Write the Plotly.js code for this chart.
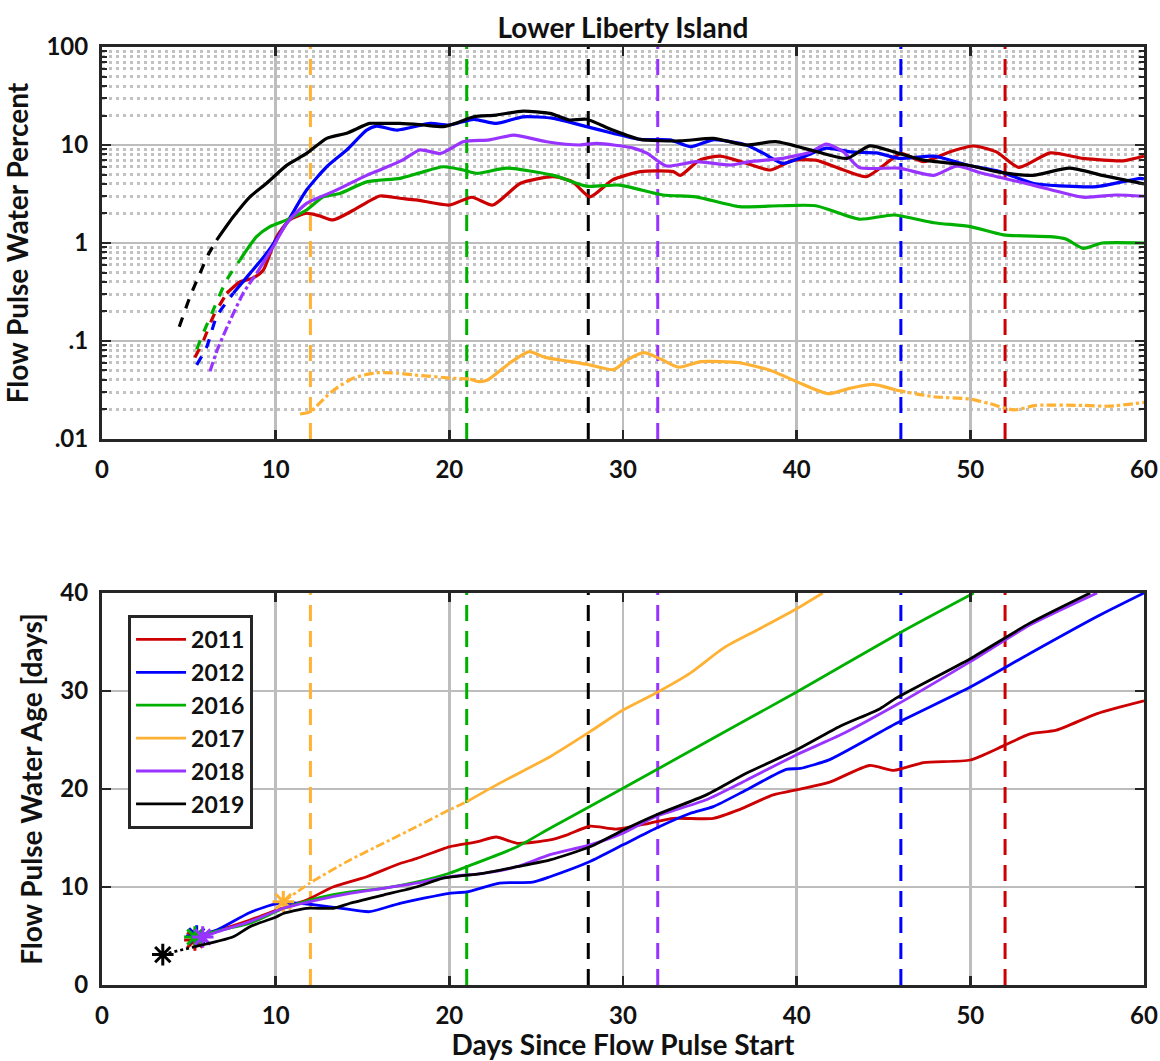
<!DOCTYPE html>
<html>
<head>
<meta charset="utf-8">
<script src="https://cdn.plot.ly/plotly-3.0.1.min.js"></script>
<style>
  html, body { margin: 0; padding: 0; background: #ffffff; }
  #chart { width: 1160px; height: 1061px; }
</style>
</head>
<body>
<div id="chart"></div>
<script>
// ---------------- DATA ----------------
const years = ['2011', '2012', '2016', '2017', '2018', '2019'];
const pulseEndDay = [52, 46, 21, 12, 32, 28];

// Top panel: Flow Pulse Water Percent (log scale)
const pctDays2011 = [5.35, 5.83, 6.4, 7.18, 7.94, 8.71, 9.29, 10.06, 10.8, 11.78, 12.5, 13.3, 14.5, 16.0, 17.16, 18.1, 20.0, 21.3, 22.5, 24.1, 26.0, 27.1, 28.1, 29.4, 31.0, 32.9, 33.3, 34.4, 35.6, 37.1, 38.5, 39.8, 41.1, 42.7, 44.0, 45.4, 46.0, 47.3, 48.8, 50.2, 51.5, 52.8, 54.6, 56.5, 58.8, 60];
const pct2011 = [0.068, 0.10, 0.177, 0.307, 0.40, 0.44, 0.53, 1.16, 1.72, 2.01, 1.9, 1.72, 2.17, 3.02, 2.86, 2.75, 2.44, 2.93, 2.44, 4.07, 4.75, 4.2, 2.96, 4.4, 5.35, 5.35, 4.9, 7.0, 7.7, 6.5, 5.56, 7.0, 7.0, 5.56, 4.75, 7.0, 8.2, 6.76, 8.5, 9.77, 8.5, 5.9, 8.3, 7.3, 6.9, 7.7];

const pctDays2012 = [5.45, 6.03, 6.6, 7.56, 8.52, 9.48, 10.63, 11.78, 12.94, 14.09, 15.24, 15.8, 17.0, 18.9, 20.0, 21.4, 22.7, 24.25, 26.0, 27.9, 29.4, 31.0, 32.7, 33.9, 35.2, 37.1, 38.1, 39.2, 40.4, 41.7, 43.1, 44.6, 45.9, 47.9, 49.8, 51.7, 53.6, 55.5, 57.3, 59.8, 60];
const pct2012 = [0.057, 0.087, 0.177, 0.307, 0.49, 0.785, 1.59, 3.47, 6.0, 8.9, 14.2, 15.6, 14.2, 16.6, 16.0, 18.3, 16.6, 19.4, 18.7, 15.4, 13.2, 11.4, 11.3, 9.6, 11.3, 10.0, 8.2, 6.5, 7.6, 9.3, 8.5, 8.3, 7.3, 7.7, 6.25, 5.35, 4.07, 3.8, 3.76, 4.57, 4.5];

const pctDays2016 = [5.45, 5.83, 6.4, 7.18, 7.94, 8.9, 9.67, 10.63, 11.78, 12.74, 13.7, 15.24, 17.16, 18.3, 19.65, 20.8, 21.6, 23.3, 26.0, 27.9, 29.8, 32.3, 34.2, 36.7, 39.0, 41.1, 43.6, 45.6, 47.9, 50.0, 51.9, 54.6, 55.5, 56.5, 57.6, 60];
const pct2016 = [0.082, 0.12, 0.207, 0.42, 0.67, 1.16, 1.47, 1.72, 2.17, 2.96, 3.2, 4.2, 4.57, 5.2, 6.0, 5.56, 5.14, 5.8, 4.9, 3.8, 3.9, 3.09, 2.96, 2.35, 2.4, 2.4, 1.75, 1.93, 1.61, 1.47, 1.21, 1.16, 1.1, 0.88, 1.0, 1.0];

const pctDays2017 = [11.4, 12.0, 12.5, 13.0, 13.6, 14.5, 15.8, 17.0, 18.0, 20.2, 21.2, 21.7, 22.2, 23.5, 24.6, 25.5, 26.4, 27.9, 29.45, 30.3, 31.2, 32.2, 33.2, 34.5, 36.7, 38.5, 40.0, 41.8, 43.1, 44.4, 45.7, 47.9, 50.0, 51.1, 52.5, 53.8, 56.5, 58.0, 60];
const pct2017 = [0.018, 0.019, 0.023, 0.028, 0.034, 0.042, 0.0475, 0.047, 0.045, 0.0417, 0.041, 0.0385, 0.040, 0.060, 0.078, 0.068, 0.064, 0.058, 0.051, 0.065, 0.076, 0.065, 0.054, 0.0615, 0.060, 0.050, 0.0385, 0.029, 0.033, 0.036, 0.0316, 0.027, 0.0255, 0.023, 0.0198, 0.022, 0.022, 0.0216, 0.0236];

const pctDays2018 = [6.22, 6.6, 7.08, 7.56, 8.13, 8.9, 9.86, 10.63, 11.78, 13.3, 15.24, 16.0, 17.3, 18.3, 19.5, 20.8, 22.3, 23.7, 25.6, 27.5, 28.5, 30.6, 31.4, 32.5, 34.2, 36.2, 37.3, 39.2, 40.8, 41.7, 42.7, 43.6, 45.9, 47.9, 49.2, 50.7, 53.6, 56.5, 58.4, 60];
const pct2018 = [0.049, 0.078, 0.124, 0.19, 0.307, 0.49, 0.92, 1.59, 2.54, 3.34, 4.9, 5.56, 7.0, 8.9, 8.2, 10.8, 11.3, 12.6, 10.8, 10.0, 10.4, 9.3, 8.2, 6.1, 6.76, 6.25, 6.76, 7.3, 8.5, 10.2, 8.5, 5.9, 5.8, 4.9, 6.1, 5.14, 3.9, 2.93, 3.09, 3.0];

const pctDays2019 = [4.45, 5.07, 5.64, 6.1, 6.6, 7.56, 8.52, 9.48, 10.63, 11.78, 12.94, 14.09, 15.4, 16.0, 17.16, 18.5, 19.65, 20.5, 21.4, 22.7, 24.25, 25.8, 26.9, 27.9, 29.4, 30.97, 33.3, 35.2, 37.1, 38.8, 41.1, 42.9, 44.2, 45.6, 47.3, 49.8, 51.5, 53.6, 55.7, 57.6, 60];
const pct2019 = [0.14, 0.283, 0.49, 0.75, 1.07, 1.85, 2.96, 4.07, 6.2, 8.2, 11.7, 13.2, 16.6, 16.6, 16.6, 16.0, 15.4, 17.0, 19.4, 20.2, 22.2, 21.0, 18.0, 18.3, 14.2, 11.4, 11.0, 11.7, 10.0, 10.8, 8.6, 7.3, 9.8, 8.5, 7.0, 6.25, 5.35, 4.9, 5.8, 4.9, 4.0];

// Bottom panel: Flow Pulse Water Age [days]
const ageDays2011 = [5.35, 6.6, 8.52, 10.06, 11.78, 13.3, 15.24, 17.16, 18.1, 20.0, 21.57, 22.7, 23.9, 25.8, 26.75, 28.1, 29.6, 31.5, 32.9, 35.2, 36.7, 38.65, 40.2, 41.9, 44.2, 45.6, 47.3, 50.0, 51.9, 53.4, 54.96, 57.3, 60];
const age2011 = [4.6, 5.5, 6.63, 7.65, 8.67, 10.0, 11.05, 12.4, 12.9, 14.1, 14.6, 15.1, 14.46, 14.8, 15.3, 16.2, 15.9, 16.5, 17.0, 17.0, 17.9, 19.4, 20.0, 20.7, 22.4, 21.9, 22.7, 22.96, 24.4, 25.6, 26.0, 27.7, 29.0];

const ageDays2012 = [5.45, 6.6, 8.52, 10.06, 11.4, 12.36, 13.9, 15.4, 17.16, 20.0, 21.0, 22.9, 24.8, 25.8, 28.1, 30.0, 31.9, 33.85, 35.2, 37.1, 39.4, 40.2, 41.9, 45.75, 50.0, 53.4, 57.3, 60];
const age2012 = [5.0, 5.6, 7.4, 8.3, 8.34, 8.16, 7.8, 7.48, 8.34, 9.36, 9.5, 10.4, 10.5, 11.05, 12.6, 14.3, 16.0, 17.5, 18.2, 19.9, 22.0, 22.1, 23.0, 26.7, 30.4, 33.8, 37.6, 40.0];

const ageDays2016 = [5.35, 6.6, 8.52, 10.44, 12.36, 14.28, 16.2, 18.1, 20.0, 21.0, 23.9, 25.8, 30.0, 34.8, 40.0, 45.9, 50.2];
const age2016 = [4.9, 5.5, 6.3, 7.8, 8.85, 9.5, 9.87, 10.5, 11.4, 12.07, 14.1, 16.0, 20.07, 24.8, 29.9, 35.9, 40.0];

const ageDays2017 = [10.44, 11.97, 14.28, 16.2, 18.1, 20.0, 21.0, 22.9, 25.8, 28.1, 30.0, 31.9, 33.85, 35.8, 37.7, 40.0, 41.5];
const age2017 = [8.5, 10.4, 12.76, 14.46, 16.15, 17.86, 18.7, 20.6, 23.3, 25.85, 28.06, 29.8, 31.8, 34.4, 36.2, 38.4, 40.0];

const ageDays2018 = [5.8, 6.6, 8.52, 10.44, 12.36, 14.28, 16.2, 18.1, 20.0, 21.95, 23.9, 25.8, 28.1, 30.0, 31.9, 34.8, 37.1, 40.0, 42.5, 45.75, 50.0, 53.4, 57.3];
const age2018 = [4.9, 5.4, 6.46, 7.83, 8.67, 9.36, 9.87, 10.4, 11.05, 11.4, 12.07, 13.3, 14.3, 15.5, 17.2, 18.9, 20.9, 23.5, 25.5, 28.6, 33.0, 36.7, 40.0];

const ageDays2019 = [3.5, 5.3, 7.56, 8.52, 10.06, 10.44, 11.78, 13.3, 14.28, 16.2, 18.1, 19.65, 21.95, 23.9, 25.8, 28.1, 30.0, 31.9, 34.8, 37.1, 40.0, 42.5, 44.8, 45.75, 50.0, 53.4, 56.9];
const age2019 = [3.1, 3.9, 4.93, 5.95, 6.97, 7.3, 7.83, 7.83, 8.34, 9.18, 10.0, 10.9, 11.4, 12.07, 12.76, 14.1, 15.8, 17.35, 19.4, 21.6, 24.0, 26.4, 28.2, 29.3, 33.3, 36.9, 40.0];

// Tick labels
const xTickVals = [0, 10, 20, 30, 40, 50, 60];
const pctTickVals = [0.01, 0.1, 1, 10, 100];
const pctTickText = ['.01', '.1', '1', '10', '100'];
const ageTickVals = [0, 10, 20, 30, 40];

// ---------------- STYLE ----------------
const colorOf = {'2011': '#cc0000', '2012': '#0000ff', '2016': '#00b000', '2017': '#ffb133', '2018': '#9933ff', '2019': '#000000'};
// segments: [fromDay, toDay, dash]
const topSegments = {
  '2011': [[0, 7.18, 'dash'], [7.18, 99, 'solid']],
  '2012': [[0, 7.56, 'dash'], [7.56, 99, 'solid']],
  '2016': [[0, 7.94, 'dash'], [7.94, 99, 'solid']],
  '2017': [[0, 21.2, 'dashdot'], [21.2, 45.7, 'solid'], [45.7, 99, 'dashdot']],
  '2018': [[0, 8.9, 'dashdot'], [8.9, 99, 'solid']],
  '2019': [[0, 6.6, 'dash'], [6.6, 99, 'solid']]
};
const bottomSegments = {
  '2011': [[0, 99, 'solid']],
  '2012': [[0, 99, 'solid']],
  '2016': [[0, 99, 'solid']],
  '2017': [[0, 21.0, 'dashdot'], [21.0, 99, 'solid']],
  '2018': [[0, 99, 'solid']],
  '2019': [[0, 5.3, 'dot'], [5.3, 99, 'solid']]
};

const pctSeries = {'2011': [pctDays2011, pct2011], '2012': [pctDays2012, pct2012], '2016': [pctDays2016, pct2016],
                   '2017': [pctDays2017, pct2017], '2018': [pctDays2018, pct2018], '2019': [pctDays2019, pct2019]};
const ageSeries = {'2011': [ageDays2011, age2011], '2012': [ageDays2012, age2012], '2016': [ageDays2016, age2016],
                   '2017': [ageDays2017, age2017], '2018': [ageDays2018, age2018], '2019': [ageDays2019, age2019]};

const FONT = 'Lato, "Open Sans", sans-serif';
const AX = '#262626';
const GRID = '#bdbdbd';
const MINOR = '#c2c2c2';

const traces = [];

// vertical dashed "pulse end" lines
years.forEach((yr, i) => {
  traces.push({x: [pulseEndDay[i], pulseEndDay[i]], y: [0.01, 100], xaxis: 'x', yaxis: 'y', mode: 'lines',
    line: {color: colorOf[yr], width: 3, dash: '16px,10px'}, showlegend: false, hoverinfo: 'skip'});
  traces.push({x: [pulseEndDay[i], pulseEndDay[i]], y: [0, 40], xaxis: 'x2', yaxis: 'y2', mode: 'lines',
    line: {color: colorOf[yr], width: 3, dash: '16px,10px'}, showlegend: false, hoverinfo: 'skip'});
});

function segPoints(days, vals, a, b) {
  const xs = [], ys = [];
  days.forEach((d, k) => { if (d >= a && d <= b) { xs.push(d); ys.push(vals[k]); } });
  return [xs, ys];
}

years.forEach((yr) => {
  const [pd, pv] = pctSeries[yr];
  topSegments[yr].forEach(([a, b, dash]) => {
    const [xs, ys] = segPoints(pd, pv, a, b);
    traces.push({x: xs, y: ys, xaxis: 'x', yaxis: 'y', mode: 'lines', line: {color: colorOf[yr], width: 3.2, dash: dash, shape: 'spline', smoothing: 0.6},
      showlegend: false, name: yr});
  });
  const [ad, av] = ageSeries[yr];
  bottomSegments[yr].forEach(([a, b, dash]) => {
    const [xs, ys] = segPoints(ad, av, a, b);
    traces.push({x: xs, y: ys, xaxis: 'x2', yaxis: 'y2', mode: 'lines', line: {color: colorOf[yr], width: 2.8, dash: dash, shape: 'spline', smoothing: 0.6},
      showlegend: dash === 'solid', name: yr, legendgroup: yr});
  });
  // start marker (first age point)
  traces.push({x: [ad[0]], y: [av[0]], xaxis: 'x2', yaxis: 'y2', mode: 'markers',
    marker: {symbol: 'asterisk-open', size: 18, color: colorOf[yr], line: {color: colorOf[yr], width: 3}},
    showlegend: false, name: yr});
});

const minorVals = [];
for (let e = -2; e < 2; e++) for (let m = 2; m <= 9; m++) minorVals.push(m * Math.pow(10, e));

const tickFont = {family: FONT, size: 24, color: '#111', weight: 'bold'};
const titleFont = {family: FONT, size: 28, color: '#111', weight: 'bold'};

const commonX = {range: [0, 60], tickvals: xTickVals, showgrid: true, gridcolor: GRID, gridwidth: 2.5,
  zeroline: false, showline: true, linecolor: AX, linewidth: 3, mirror: 'ticks', ticks: 'inside', ticklen: 9,
  tickwidth: 2.5, tickcolor: AX, tickfont: tickFont, ticklabelstandoff: 7};

const layout = {
  width: 1160, height: 1061,
  margin: {l: 102, r: 16, t: 47, b: 76},
  paper_bgcolor: '#ffffff', plot_bgcolor: '#ffffff',
  font: {family: FONT, color: '#111'},
  title: {text: 'Lower Liberty Island', font: titleFont, x: 0.5370, xanchor: 'center', xref: 'container',
          y: 1 - 28 / 1061, yanchor: 'middle', yref: 'container'},
  showlegend: true,
  legend: {x: 0.025, y: 0.3945, xanchor: 'left', yanchor: 'top', bgcolor: '#ffffff', bordercolor: AX, borderwidth: 3,
           font: {family: FONT, size: 23, color: '#111', weight: 'bold'}, tracegroupgap: 0, traceorder: 'normal',
           itemwidth: 50},
  xaxis: Object.assign({}, commonX, {anchor: 'y', domain: [0, 1]}),
  yaxis: {type: 'log', range: [-2, 2], domain: [0.5821, 1], anchor: 'x', tickmode: 'array', tickvals: pctTickVals, ticktext: pctTickText,
    showgrid: true, gridcolor: GRID, gridwidth: 2.5, zeroline: false, showline: true, linecolor: AX, linewidth: 3, mirror: 'ticks',
    ticks: 'inside', ticklen: 9, tickwidth: 2.5, tickcolor: AX, tickfont: tickFont, ticklabelstandoff: 6,
    minor: {tickmode: 'array', tickvals: minorVals, showgrid: true, gridcolor: MINOR, gridwidth: 3, griddash: '3px,4px',
            ticks: 'inside', ticklen: 5, tickwidth: 2, tickcolor: AX},
    title: {text: 'Flow Pulse Water Percent', font: titleFont, standoff: 10}},
  xaxis2: Object.assign({}, commonX, {anchor: 'y2', domain: [0, 1],
    title: {text: 'Days Since Flow Pulse Start', font: titleFont, standoff: 11}}),
  yaxis2: {range: [0, 40], domain: [0, 0.4179], anchor: 'x2', tickvals: ageTickVals, showgrid: true, gridcolor: GRID, gridwidth: 2.5,
    zeroline: false, showline: true, linecolor: AX, linewidth: 3, mirror: 'ticks', ticks: 'inside', ticklen: 9, tickwidth: 2.5,
    tickcolor: AX, tickfont: tickFont, ticklabelstandoff: 6,
    title: {text: 'Flow Pulse Water Age [days]', font: titleFont, standoff: 10}}
};

Plotly.newPlot('chart', traces, layout, {displayModeBar: false, staticPlot: true});
</script>
</body>
</html>
